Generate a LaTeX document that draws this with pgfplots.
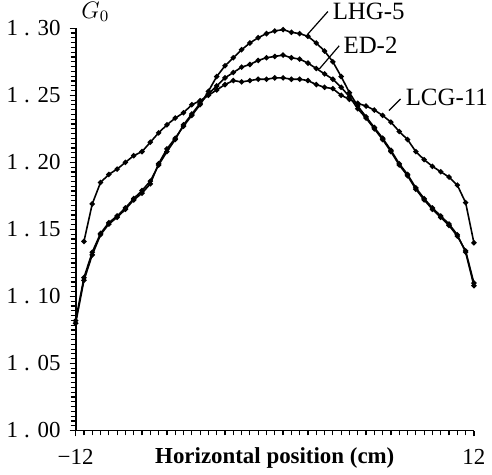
\documentclass[border=0pt]{standalone}
\usepackage{fontspec}
\setmainfont{Liberation Serif}
\usepackage{pgfplots}
\pgfplotsset{compat=1.18}

\pgfplotstableread{
x y
-12 1.080
-11.5 1.112
-11 1.131
-10.5 1.146
-10 1.154
-9.5 1.159
-9 1.165
-8.5 1.172
-8 1.177
-7.5 1.184
-7 1.199
-6.5 1.210
-6 1.218
-5.5 1.227
-5 1.235
-4.5 1.243
-4 1.253
-3.5 1.264
-3 1.272
-2.5 1.278
-2 1.284
-1.5 1.289
-1 1.293
-0.5 1.296
0 1.298
0.5 1.299
1 1.297
1.5 1.296
2 1.294
2.5 1.289
3 1.283
3.5 1.275
4 1.264
4.5 1.252
5 1.242
5.5 1.234
6 1.226
6.5 1.218
7 1.209
7.5 1.199
8 1.191
8.5 1.181
9 1.173
9.5 1.166
10 1.160
10.5 1.154
11 1.146
11.5 1.133
12 1.108
}\lhg

\pgfplotstableread{
x y
-12 1.082
-11.5 1.114
-11 1.133
-10.5 1.147
-10 1.155
-9.5 1.160
-9 1.166
-8.5 1.173
-8 1.179
-7.5 1.186
-7 1.198
-6.5 1.208
-6 1.217
-5.5 1.228
-5 1.236
-4.5 1.244
-4 1.251
-3.5 1.257
-3 1.263
-2.5 1.267
-2 1.271
-1.5 1.273
-1 1.276
-0.5 1.278
0 1.279
0.5 1.280
1 1.278
1.5 1.277
2 1.274
2.5 1.270
3 1.266
3.5 1.262
4 1.256
4.5 1.249
5 1.240
5.5 1.233
6 1.225
6.5 1.217
7 1.208
7.5 1.198
8 1.190
8.5 1.180
9 1.172
9.5 1.165
10 1.159
10.5 1.153
11 1.145
11.5 1.134
12 1.110
}\edtwo

\pgfplotstableread{
x y
-11.5 1.141
-11 1.169
-10.5 1.185
-10 1.191
-9.5 1.195
-9 1.200
-8.5 1.205
-8 1.208
-7.5 1.215
-7 1.222
-6.5 1.228
-6 1.233
-5.5 1.237
-5 1.243
-4.5 1.246
-4 1.250
-3.5 1.254
-3 1.258
-2.5 1.261
-2 1.260
-1.5 1.261
-1 1.262
-0.5 1.262
0 1.263
0.5 1.263
1 1.262
1.5 1.262
2 1.261
2.5 1.258
3 1.256
3.5 1.255
4 1.250
4.5 1.247
5 1.244
5.5 1.242
6 1.239
6.5 1.235
7 1.230
7.5 1.223
8 1.217
8.5 1.208
9 1.202
9.5 1.197
10 1.193
10.5 1.189
11 1.183
11.5 1.170
12 1.140
}\lcg

\begin{document}
\begin{tikzpicture}
\begin{axis}[
scale only axis,
width=200pt,
height=202pt,
xmin=-12, xmax=12,
ymin=1.0, ymax=1.30,
axis lines=left,
axis line style={-, line width=0.9pt},
tick align=outside,
tick style={black, line width=0.6pt},
major tick length=3pt,
minor tick length=2.5pt,
xtick={-12,12},
xticklabels={−12,12},
minor x tick num=47,
ytick={1.00,1.05,1.10,1.15,1.20,1.25,1.30},
yticklabels={1\hspace{3pt}.\hspace{4pt}00,1\hspace{3pt}.\hspace{4pt}05,1\hspace{3pt}.\hspace{4pt}10,1\hspace{3pt}.\hspace{4pt}15,1\hspace{3pt}.\hspace{4pt}20,1\hspace{3pt}.\hspace{4pt}25,1\hspace{3pt}.\hspace{4pt}30},
minor y tick num=13,
ticklabel style={font=\fontsize{11.5}{13}\selectfont},
yticklabel style={xshift=-1pt},
xticklabel style={yshift=-3pt},
xlabel={\textbf{Horizontal position (cm)}},
xlabel style={at={(axis description cs:0.5,0)}, anchor=north, yshift=-5pt, font=\fontsize{11.5}{13}\selectfont},
clip=false,
]
\addplot[black, line width=0.8pt, mark=*, mark size=0.9pt] table {\lhg};
\addplot[black, line width=0.8pt, mark=*, mark size=0.9pt] table {\edtwo};
\addplot[black, line width=0.8pt, mark=*, mark size=0.9pt] table {\lcg};
\draw[line width=0.6pt] (axis cs:1.98,1.2955) -- (axis cs:3.2,1.3125);
\draw[line width=0.6pt] (axis cs:2.68,1.2696) -- (axis cs:3.88,1.2869);
\draw[line width=0.6pt] (axis cs:6.88,1.2386) -- (axis cs:7.58,1.2473);
\node[anchor=west, inner sep=1pt, font=\fontsize{12.5}{14}\selectfont] at (axis cs:3.35,1.3125) {LHG-5};
\node[anchor=west, inner sep=1pt, font=\fontsize{12.5}{14}\selectfont] at (axis cs:4.0,1.2875) {ED-2};
\node[anchor=west, inner sep=1pt, font=\fontsize{12.5}{14}\selectfont] at (axis cs:7.75,1.2485) {LCG-11};
\node[anchor=south west, inner sep=1pt, yshift=2pt, font=\fontsize{11.5}{13}\selectfont] at (axis cs:-11.8,1.300) {$G_0$};
\end{axis}
\end{tikzpicture}
\end{document}
